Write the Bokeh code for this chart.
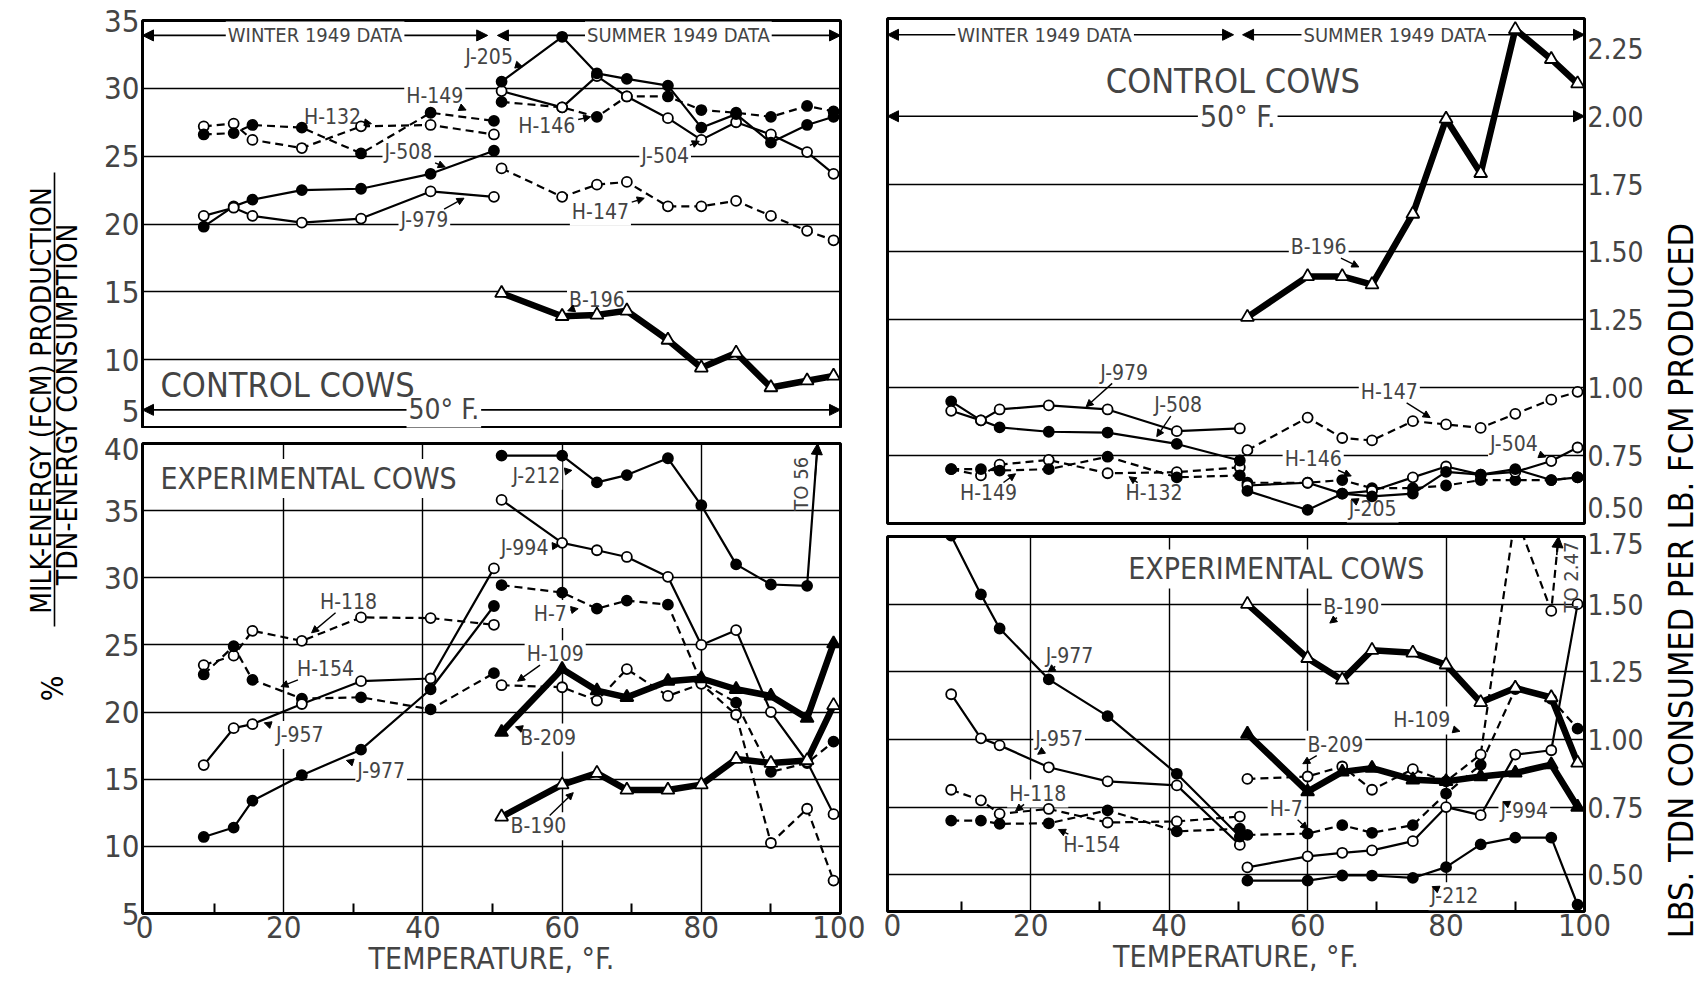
import numpy as np
from bokeh.plotting import figure
from bokeh.models import (Range1d, FixedTicker, Label, Arrow, NormalHead,
                          ColumnDataSource)
from bokeh.layouts import row, column
from bokeh.embed import file_html
from bokeh.resources import INLINE
from bokeh.core.properties import value

FONT = "DejaVu Sans Condensed, Roboto"

# ---------------------------------------------------------------- data
# room temperatures (deg F) of the averaged periods
winter_temp = [8.5, 12.8, 15.5, 22.6, 31.1, 41.1, 50.2]
summer_temp = [51.3, 60.0, 65.0, 69.3, 75.2, 80.0, 85.0, 90.0, 95.2, 99.0]

# % milk-energy production / TDN-energy consumption, control cows
ctl_pct_H132 = [27.2, 27.4, 26.2, 25.6, 27.2, 27.3, 26.6]
ctl_pct_H149 = [26.6, 26.7, 27.3, 27.1, 25.2, 28.2, 27.6]
ctl_pct_J508 = [19.8, 21.3, 21.8, 22.5, 22.6, 23.7, 25.4]
ctl_pct_J979 = [20.6, 21.2, 20.6, 20.1, 20.4, 22.4, 22.0]
ctl_pct_J205 = [30.5, 33.8, 31.1, 30.7, 30.2, 27.1, 28.1, 26.0, 27.3, 27.9]
ctl_pct_J504 = [29.8, 28.6, 30.9, 29.4, 27.8, 26.2, 27.5, 26.6, 25.3, 23.7]
ctl_pct_H146 = [29.0, 28.6, 27.9, 29.4, 29.4, 28.4, 28.2, 27.9, 28.7, 28.3]
ctl_pct_H147 = [24.1, 22.0, 22.9, 23.1, 21.3, 21.3, 21.7, 20.6, 19.5, 18.8]
ctl_pct_B196 = [14.9, 13.2, 13.3, 13.6, 11.45, 9.4, 10.5, 7.95, 8.45, 8.8]

# % milk-energy production / TDN-energy consumption, experimental cows
exp_pct_H118 = [23.5, 24.2, 26.05, 25.3, 27.05, 27.0, 26.5]
exp_pct_H154 = [22.8, 24.9, 22.4, 21.0, 21.1, 20.2, 22.9]
exp_pct_J957 = [16.05, 18.8, 19.1, 20.6, 22.3, 22.5, 30.7]
exp_pct_J977 = [10.7, 11.4, 13.4, 15.3, 17.2, 21.7, 27.9]
exp_pct_J212 = [39.1, 39.1, 37.1, 37.65, 38.9, 35.4, 31.0, 29.5, 29.4, 56.0]
exp_pct_J994 = [35.8, 32.6, 32.05, 31.55, 30.07, 25.0, 26.1, 20.0, 16.3, 12.4]
exp_pct_H7 = [29.45, 28.9, 27.7, 28.3, 28.0, 22.2, 20.7, 15.55, 16.2, 17.8]
exp_pct_H109 = [22.0, 21.85, 20.86, 23.2, 21.2, 22.1, 19.8, 10.25, 12.8, 7.45]
exp_pct_B209 = [18.5, 23.2, 21.6, 21.1, 22.3, 22.5, 21.7, 21.2, 19.55, 25.1]
exp_pct_B190 = [12.2, 14.6, 15.45, 14.2, 14.2, 14.6, 16.5, 16.2, 16.4, 20.5]

# lbs. TDN consumed per lb. FCM produced, control cows
ctl_tdn_J979 = [0.915, 0.88, 0.92, 0.935, 0.92, 0.84, 0.85]
ctl_tdn_J508 = [0.95, 0.88, 0.854, 0.838, 0.835, 0.793, 0.732]
ctl_tdn_H149 = [0.70, 0.70, 0.695, 0.70, 0.746, 0.67, 0.677]
ctl_tdn_H132 = [0.70, 0.677, 0.717, 0.734, 0.685, 0.689, 0.707]
ctl_tdn_J205 = [0.62, 0.55, 0.61, 0.60, 0.61, 0.69, 0.68, 0.70, 0.66, 0.67]
ctl_tdn_J504 = [0.64, 0.65, 0.61, 0.62, 0.67, 0.71, 0.68, 0.69, 0.73, 0.78]
ctl_tdn_H146 = [0.65, 0.65, 0.66, 0.63, 0.63, 0.64, 0.66, 0.66, 0.66, 0.67]
ctl_tdn_H147 = [0.77, 0.89, 0.815, 0.806, 0.877, 0.865, 0.852, 0.904, 0.956, 0.985]
ctl_tdn_B196 = [1.26, 1.41, 1.41, 1.38, 1.64, 1.99, 1.79, 2.32, 2.21, 2.12]

# lbs. TDN consumed per lb. FCM produced, experimental cows
exp_tdn_J977 = [1.753, 1.536, 1.41, 1.222, 1.086, 0.873, 0.641]
exp_tdn_J957 = [1.167, 1.004, 0.978, 0.897, 0.845, 0.83, 0.61]
exp_tdn_H118 = [0.814, 0.775, 0.725, 0.743, 0.693, 0.697, 0.715]
exp_tdn_H154 = [0.70, 0.70, 0.688, 0.69, 0.738, 0.66, 0.67]
exp_tdn_B190 = [1.50, 1.30, 1.22, 1.33, 1.32, 1.276, 1.137, 1.19, 1.155, 0.913]
exp_tdn_B209 = [1.02, 0.807, 0.88, 0.894, 0.851, 0.845, 0.863, 0.876, 0.907, 0.75]
exp_tdn_H109 = [0.854, 0.863, 0.90, 0.814, 0.89, 0.845, 0.944, 1.83, 1.475, 2.47]
exp_tdn_H7 = [0.647, 0.652, 0.683, 0.655, 0.683, 0.80, 0.906, 1.186, 1.15, 1.04]
exp_tdn_J994 = [0.527, 0.568, 0.581, 0.59, 0.624, 0.75, 0.72, 0.944, 0.96, 1.50]
exp_tdn_J212 = [0.478, 0.478, 0.497, 0.497, 0.488, 0.528, 0.612, 0.637, 0.637, 0.389]

# tick labels; the end labels of each stacked pair sit slightly inside the frame
left_ticks_top = [6.2, 10, 15, 20, 25, 30, 35]
left_labels_top = ["5", "10", "15", "20", "25", "30", "35"]
left_ticks_bottom = [5, 10, 15, 20, 25, 30, 35, 39.6]
left_labels_bottom = ["5", "10", "15", "20", "25", "30", "35", "40"]
right_ticks_top = [0.56, 0.75, 1.00, 1.25, 1.50, 1.75, 2.00, 2.25]
right_labels_top = ["0.50", "0.75", "1.00", "1.25", "1.50", "1.75", "2.00", "2.25"]
right_ticks_bottom = [0.50, 0.75, 1.00, 1.25, 1.50, 1.725]
right_labels_bottom = ["0.50", "0.75", "1.00", "1.25", "1.50", "1.75"]
temp_ticks = [0, 20, 40, 60, 80, 100]
temp_minor = [10, 30, 50, 70, 90]

# ---------------------------------------------------------------- styles
STYLES = {
    "solid_filled": dict(dash="solid", lw=2.2, marker="circle", size=10, fill="black"),
    "solid_open": dict(dash="solid", lw=2.2, marker="circle", size=10, fill="white"),
    "dash_filled": dict(dash="8 5", lw=2.2, marker="circle", size=10, fill="black"),
    "dash_open": dict(dash="8 5", lw=2.2, marker="circle", size=10, fill="white"),
    "thick_open": dict(dash="solid", lw=6.5, marker="triangle", size=13, fill="white"),
    "thick_filled": dict(dash="solid", lw=6.5, marker="triangle", size=13, fill="black"),
}

FRAME_PX = {}


def draw_series(p, temps, vals, style):
    st = STYLES[style]
    src = ColumnDataSource(dict(t=temps, v=vals))
    p.line("t", "v", source=src, line_color="black", line_width=st["lw"],
           line_dash=st["dash"])
    p.scatter("t", "v", source=src, marker=st["marker"], size=st["size"],
              fill_color=st["fill"], line_color="black", line_width=1.8)


def make_panel(width, height, borders, xr, yr, yside, xaxis, yticks, ylabels,
               ygrid, xgrid):
    p = figure(width=width, height=height, x_range=Range1d(*xr),
               y_range=Range1d(*yr), output_backend="svg", toolbar_location=None,
               x_axis_location="below" if xaxis else None, y_axis_location=yside,
               min_border_left=borders[0], min_border_right=borders[1],
               min_border_top=borders[2], min_border_bottom=borders[3])
    p.outline_line_color = "black"
    p.outline_line_width = 3
    p.background_fill_color = "white"
    p.border_fill_color = "white"
    yax = p.yaxis[0]
    yax.ticker = FixedTicker(ticks=yticks)
    yax.major_label_overrides = {t: s for t, s in zip(yticks, ylabels)}
    yax.axis_line_color = None
    yax.major_tick_in = 0
    yax.major_tick_out = 0
    yax.minor_tick_out = 0
    yax.major_label_standoff = 3
    yax.major_label_text_font = FONT
    yax.major_label_text_font_size = "31px" if yside == "left" else "28px"
    for g in p.ygrid:
        g.ticker = FixedTicker(ticks=ygrid)
        g.grid_line_color = "black"
        g.grid_line_width = 1.4
    for g in p.xgrid:
        if xgrid:
            g.ticker = FixedTicker(ticks=xgrid)
            g.grid_line_color = "black"
            g.grid_line_width = 1.4
        else:
            g.visible = False
    if xaxis:
        xax = p.xaxis[0]
        xax.ticker = FixedTicker(ticks=temp_ticks, minor_ticks=temp_minor)
        xax.axis_line_color = None
        xax.major_tick_in = 0
        xax.major_tick_out = 0
        xax.minor_tick_in = 10
        xax.minor_tick_out = 0
        xax.minor_tick_line_width = 2
        xax.major_label_standoff = 2
        xax.major_label_text_font = FONT
        xax.major_label_text_font_size = "31px"
        xax.axis_label = "TEMPERATURE, °F."
        xax.axis_label_standoff = 0
        xax.axis_label_text_font = FONT
        xax.axis_label_text_font_size = "30px"
        xax.axis_label_text_font_style = "normal"
    FRAME_PX[p.id] = (width - borders[0] - borders[1], height - borders[2] - borders[3])
    return p


def tag(p, text, x, y, tip=None, size=21, bg=True, align="center"):
    p.add_layout(Label(x=x, y=y, text=text, text_font=FONT,
                       text_font_size=f"{size}px", text_align=align,
                       text_baseline="middle",
                       background_fill_color="white" if bg else None,
                       background_fill_alpha=1.0, padding=2,
                       level="underlay" if bg else "annotation"))
    if tip is None:
        return
    xr, yr = p.x_range, p.y_range
    fw, fh = FRAME_PX[p.id]
    sx = fw / (xr.end - xr.start)
    sy = fh / (yr.end - yr.start)
    dx = (tip[0] - x) * sx
    dy = (tip[1] - y) * sy
    hw = len(text) * 0.27 * size + 3
    hh = 0.42 * size + 2
    k = min(hw / abs(dx) if dx else 1e9, hh / abs(dy) if dy else 1e9)
    k = min(k, 0.9)
    p.add_layout(Arrow(x_start=x + dx * k / sx, y_start=y + dy * k / sy,
                       x_end=tip[0], y_end=tip[1], line_width=1.4,
                       line_color="black",
                       end=NormalHead(size=7, fill_color="black",
                                      line_color="black", line_width=1)))


def span_arrow(p, x0, x1, y):
    p.add_layout(Arrow(x_start=x0, y_start=y, x_end=x1, y_end=y, line_width=1.6,
                       line_color="black", level="underlay",
                       start=NormalHead(size=11, fill_color="black", line_color="black"),
                       end=NormalHead(size=11, fill_color="black", line_color="black")))


def off_scale_arrow(p, t, v, top):
    # arrowhead where the last segment leaves the top of the frame
    t0, v0, t1, v1 = t[-2], v[-2], t[-1], v[-1]
    ys = top - (top - v0) * 0.25
    xe = t0 + (t1 - t0) * (top - v0) / (v1 - v0)
    xs = t0 + (t1 - t0) * (ys - v0) / (v1 - v0)
    p.add_layout(Arrow(x_start=xs, y_start=ys, x_end=xe, y_end=top,
                       line_width=1.6, line_color="black",
                       end=NormalHead(size=11, fill_color="black", line_color="black")))


# ---------------------------------------------------------------- panels
LEFT_W, RIGHT_W = 775, 792
lt = make_panel(LEFT_W, 428, (52, 25, 20, 1), (-0.3, 100), (5, 35), "left", False,
                left_ticks_top, left_labels_top, [10, 15, 20, 25, 30], None)
lb = make_panel(LEFT_W, 558, (52, 25, 15, 73), (-0.3, 100), (5, 40), "left", True,
                left_ticks_bottom, left_labels_bottom, [10, 15, 20, 25, 30, 35],
                [20, 40, 60, 80])
rt = make_panel(RIGHT_W, 527, (22, 73, 18, 4), (-0.7, 100), (0.50, 2.36), "right",
                False, right_ticks_top, right_labels_top,
                [0.75, 1.00, 1.25, 1.50, 1.75], None)
rb = make_panel(RIGHT_W, 459, (22, 73, 9, 75), (-0.7, 100), (0.364, 1.75), "right",
                True, right_ticks_bottom, right_labels_bottom,
                [0.50, 0.75, 1.00, 1.25, 1.50], [20, 40, 60, 80])

# headers and reference arrows
span_arrow(lt, -0.3, 49.3, 33.9)
span_arrow(lt, 50.7, 100, 33.9)
tag(lt, "WINTER 1949 DATA", 24.5, 33.9, size=20)
tag(lt, "SUMMER 1949 DATA", 76.7, 33.9, size=20)
span_arrow(lt, -0.3, 100, 6.3)
tag(lt, "50° F.", 43.0, 6.3, size=28)
tag(lt, "CONTROL  COWS", 2.0, 8.1, size=34, bg=False, align="left")

span_arrow(rt, -0.7, 49.3, 2.30)
span_arrow(rt, 50.6, 100, 2.30)
tag(rt, "WINTER 1949 DATA", 22.0, 2.30, size=20)
tag(rt, "SUMMER 1949 DATA", 72.6, 2.30, size=20)
span_arrow(rt, -0.7, 100, 2.00)
tag(rt, "50° F.", 49.9, 2.00, size=30)
tag(rt, "CONTROL  COWS", 49.9, 2.13, size=34, bg=False)

tag(lb, "EXPERIMENTAL  COWS", 2.0, 37.4, size=30, align="left")
tag(rb, "EXPERIMENTAL  COWS", 56.1, 1.63, size=30)

# control cows, energy ratio
for vals, st in [(ctl_pct_H132, "dash_open"), (ctl_pct_H149, "dash_filled"),
                 (ctl_pct_J508, "solid_filled"), (ctl_pct_J979, "solid_open")]:
    draw_series(lt, winter_temp, vals, st)
for vals, st in [(ctl_pct_H147, "dash_open"), (ctl_pct_H146, "dash_filled"),
                 (ctl_pct_J504, "solid_open"), (ctl_pct_J205, "solid_filled"),
                 (ctl_pct_B196, "thick_open")]:
    draw_series(lt, summer_temp, vals, st)

tag(lt, "J-205", 49.5, 32.3, (54.3, 31.6))
tag(lt, "H-149", 41.7, 29.4, (46.2, 28.4))
tag(lt, "H-132", 27.0, 27.9, (32.6, 27.4))
tag(lt, "H-146", 57.8, 27.2, (64.1, 27.9))
tag(lt, "J-508", 37.9, 25.3, (43.2, 24.2))
tag(lt, "J-504", 74.8, 25.0, (79.7, 26.1))
tag(lt, "J-979", 40.2, 20.3, (45.9, 21.9))
tag(lt, "H-147", 65.5, 20.9, (71.8, 21.9))
tag(lt, "B-196", 65.0, 14.4, (60.8, 13.6))

# experimental cows, energy ratio
for vals, st in [(exp_pct_H118, "dash_open"), (exp_pct_H154, "dash_filled"),
                 (exp_pct_J957, "solid_open"), (exp_pct_J977, "solid_filled")]:
    draw_series(lb, winter_temp, vals, st)
for vals, st in [(exp_pct_H7, "dash_filled"), (exp_pct_H109, "dash_open"),
                 (exp_pct_J994, "solid_open"), (exp_pct_J212, "solid_filled"),
                 (exp_pct_B209, "thick_filled"), (exp_pct_B190, "thick_open")]:
    draw_series(lb, summer_temp, vals, st)
off_scale_arrow(lb, summer_temp, exp_pct_J212, 40)
lb.add_layout(Label(x=94.3, y=37.0, text="TO 56", angle=np.pi / 2, text_font=FONT,
                    text_font_size="20px", text_align="center", text_baseline="middle"))

tag(lb, "J-212", 56.3, 37.6, (61.4, 38.0))
tag(lb, "J-994", 54.6, 32.2, (59.6, 32.4))
tag(lb, "H-7", 58.3, 27.3, (62.3, 27.7))
tag(lb, "H-118", 29.3, 28.2, (24.0, 25.9))
tag(lb, "H-109", 59.0, 24.3, (53.6, 22.3))
tag(lb, "H-154", 26.0, 23.2, (19.6, 21.9))
tag(lb, "J-957", 22.3, 18.3, (17.2, 19.2))
tag(lb, "B-209", 58.0, 18.1, (53.3, 18.9))
tag(lb, "J-977", 34.0, 15.6, (29.0, 16.4))
tag(lb, "B-190", 56.6, 11.5, (61.6, 14.0))

# control cows, TDN per lb. FCM
for vals, st in [(ctl_tdn_H132, "dash_open"), (ctl_tdn_H149, "dash_filled"),
                 (ctl_tdn_J508, "solid_filled"), (ctl_tdn_J979, "solid_open")]:
    draw_series(rt, winter_temp, vals, st)
for vals, st in [(ctl_tdn_H147, "dash_open"), (ctl_tdn_H146, "dash_filled"),
                 (ctl_tdn_J504, "solid_open"), (ctl_tdn_J205, "solid_filled"),
                 (ctl_tdn_B196, "thick_open")]:
    draw_series(rt, summer_temp, vals, st)

tag(rt, "B-196", 61.6, 1.517, (67.4, 1.445))
tag(rt, "J-979", 33.5, 1.056, (28.0, 0.93))
tag(rt, "J-508", 41.3, 0.935, (38.2, 0.82))
tag(rt, "H-147", 71.8, 0.984, (77.7, 0.89))
tag(rt, "H-146", 60.8, 0.736, (66.3, 0.675))
tag(rt, "J-504", 89.8, 0.792, (94.4, 0.745))
tag(rt, "H-149", 13.9, 0.611, (17.8, 0.683))
tag(rt, "H-132", 37.8, 0.611, (34.2, 0.672))
tag(rt, "J-205", 69.4, 0.555, (66.3, 0.59))

# experimental cows, TDN per lb. FCM
for vals, st in [(exp_tdn_H118, "dash_open"), (exp_tdn_H154, "dash_filled"),
                 (exp_tdn_J957, "solid_open"), (exp_tdn_J977, "solid_filled")]:
    draw_series(rb, winter_temp, vals, st)
for vals, st in [(exp_tdn_H7, "dash_filled"), (exp_tdn_H109, "dash_open"),
                 (exp_tdn_J994, "solid_open"), (exp_tdn_J212, "solid_filled"),
                 (exp_tdn_B209, "thick_filled"), (exp_tdn_B190, "thick_open")]:
    draw_series(rb, summer_temp, vals, st)
off_scale_arrow(rb, summer_temp, exp_tdn_H109, 1.75)
rb.add_layout(Label(x=98.0, y=1.60, text="TO 2.47", angle=np.pi / 2, text_font=FONT,
                    text_font_size="20px", text_align="center", text_baseline="middle"))

tag(rb, "J-977", 25.6, 1.31, (22.5, 1.25))
tag(rb, "B-190", 66.3, 1.49, (63.2, 1.43))
tag(rb, "J-957", 24.1, 1.00, (21.0, 0.945))
tag(rb, "H-109", 76.5, 1.07, (82.0, 1.03))
tag(rb, "B-209", 64.0, 0.98, (59.3, 0.91))
tag(rb, "H-118", 21.0, 0.80, (17.8, 0.735))
tag(rb, "H-7", 56.9, 0.743, (60.0, 0.668))
tag(rb, "J-994", 91.3, 0.735, (88.2, 0.77))
tag(rb, "H-154", 28.8, 0.61, (24.0, 0.667))
tag(rb, "J-212", 81.2, 0.42, (78.0, 0.456))


# ---------------------------------------------------------------- side titles
def side_fig(width):
    f = figure(width=width, height=986, x_range=Range1d(0, width),
               y_range=Range1d(0, 986), output_backend="svg", toolbar_location=None,
               x_axis_location=None, y_axis_location=None, min_border=0)
    f.outline_line_color = None
    f.xgrid.visible = False
    f.ygrid.visible = False
    f.background_fill_color = "white"
    f.border_fill_color = "white"
    return f


left_title = side_fig(90)
left_title.text(x=[41, 67], y=[586, 586],
                text=["MILK-ENERGY (FCM) PRODUCTION", "TDN-ENERGY  CONSUMPTION"],
                angle=np.pi / 2, text_font=value(FONT), text_font_size="28px",
                text_align="center", text_baseline="middle")
left_title.segment(x0=[54], y0=[360], x1=[54], y1=[814], line_color="black",
                   line_width=1.6)
left_title.text(x=[52], y=[298], text=["%"], angle=np.pi / 2, text_font=value(FONT),
                text_font_size="30px", text_align="center", text_baseline="middle")

right_title = side_fig(47)
right_title.text(x=[23], y=[435], text=["LBS.  TDN  CONSUMED  PER  LB.  FCM  PRODUCED"],
                 angle=np.pi / 2, text_font=value(FONT), text_font_size="34px",
                 text_align="center", text_baseline="middle")

layout = row(left_title, column(lt, lb), column(rt, rb), right_title)
open("out.html", "w").write(file_html(layout, INLINE))
